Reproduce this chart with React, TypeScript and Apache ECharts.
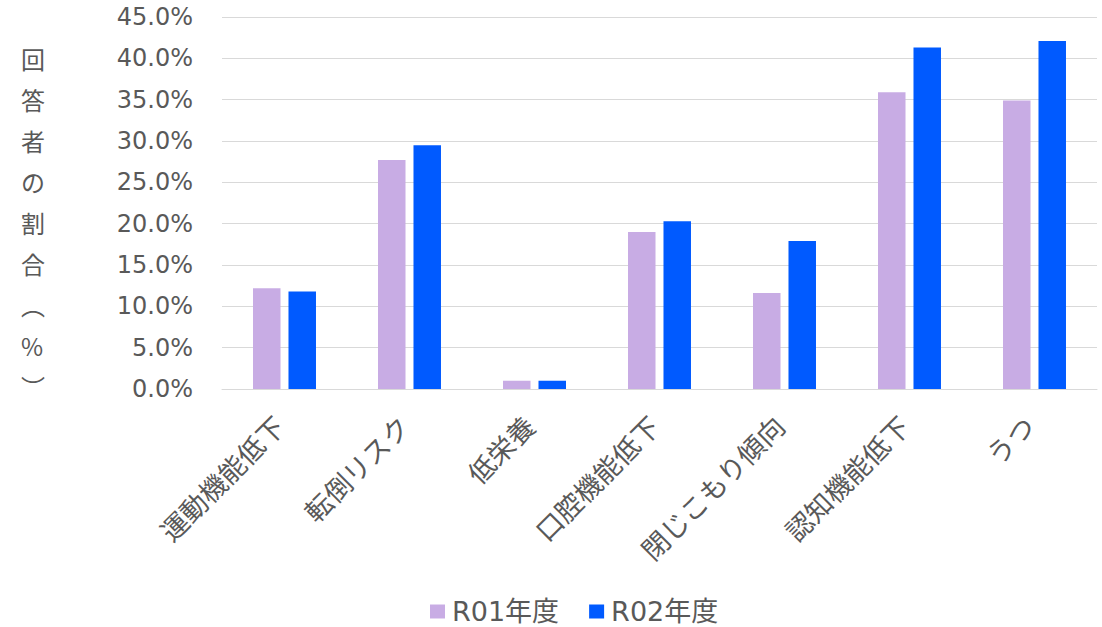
import React, { useEffect, useRef } from "react";
import * as echarts from "echarts";

const categories = ["運動機能低下", "転倒リスク", "低栄養", "口腔機能低下", "閉じこもり傾向", "認知機能低下", "うつ"];
const seriesNames = ["R01年度", "R02年度"];
const r01Values = [12.2, 27.7, 1.0, 19.0, 11.6, 35.9, 34.9];
const r02Values = [11.8, 29.5, 1.0, 20.3, 17.9, 41.3, 42.1];
const yAxisTitle = "回\n答\n者\nの\n割\n合\n︵\n%\n︶";

const TEXT = "#595959";
const LATIN = "'DejaVu Sans', 'Noto Sans CJK JP', sans-serif";
const CJK = "'Noto Sans CJK JP', sans-serif";

export default function App() {
  const ref = useRef<HTMLDivElement>(null);
  useEffect(() => {
    if (!ref.current) return;
    const chart = echarts.init(ref.current, undefined, { renderer: "svg" });
    chart.setOption({
      animation: false,
      backgroundColor: "#ffffff",
      grid: { left: 222, right: 5, top: 17, bottom: 238, containLabel: false },
      legend: {
        data: seriesNames,
        top: 593,
        left: 425,
        itemWidth: 15,
        itemHeight: 14,
        itemGap: 30,
        icon: "rect",
        textStyle: { color: TEXT, fontSize: 27, fontFamily: LATIN, padding: [0, 0, 0, 2] },
      },
      graphic: [
        {
          type: "text",
          left: 21,
          top: 38,
          style: {
            text: yAxisTitle,
            fill: TEXT,
            fontSize: 24,
            lineHeight: 41,
            fontFamily: CJK,
            align: "center",
          },
        },
      ],
      xAxis: {
        type: "category",
        data: categories,
        axisLine: { show: true, lineStyle: { color: "#D9D9D9", width: 1 } },
        axisTick: { show: false },
        axisLabel: {
          interval: 0,
          rotate: 45,
          margin: 26,
          padding: [0, 8, 0, 0],
          color: TEXT,
          fontSize: 27,
          fontFamily: CJK,
        },
      },
      yAxis: {
        type: "value",
        min: 0,
        max: 45,
        interval: 5,
        axisLine: { show: false },
        axisTick: { show: false },
        splitLine: { lineStyle: { color: "#D9D9D9", width: 1 } },
        axisLabel: {
          margin: 29,
          color: TEXT,
          fontSize: 24,
          fontFamily: LATIN,
          formatter: (v: number) => v.toFixed(1) + "%",
        },
      },
      series: [
        {
          name: seriesNames[0],
          type: "bar",
          data: r01Values,
          barWidth: "22%",
          barGap: "29%",
          itemStyle: { color: "#C8ACE4" },
        },
        {
          name: seriesNames[1],
          type: "bar",
          data: r02Values,
          barWidth: "22%",
          itemStyle: { color: "#005AFF" },
        },
      ],
    });
    return () => chart.dispose();
  }, []);
  return (
    <div
      ref={ref}
      style={{ position: "absolute", left: 0, top: 0, width: 1102, height: 627 }}
    />
  );
}
